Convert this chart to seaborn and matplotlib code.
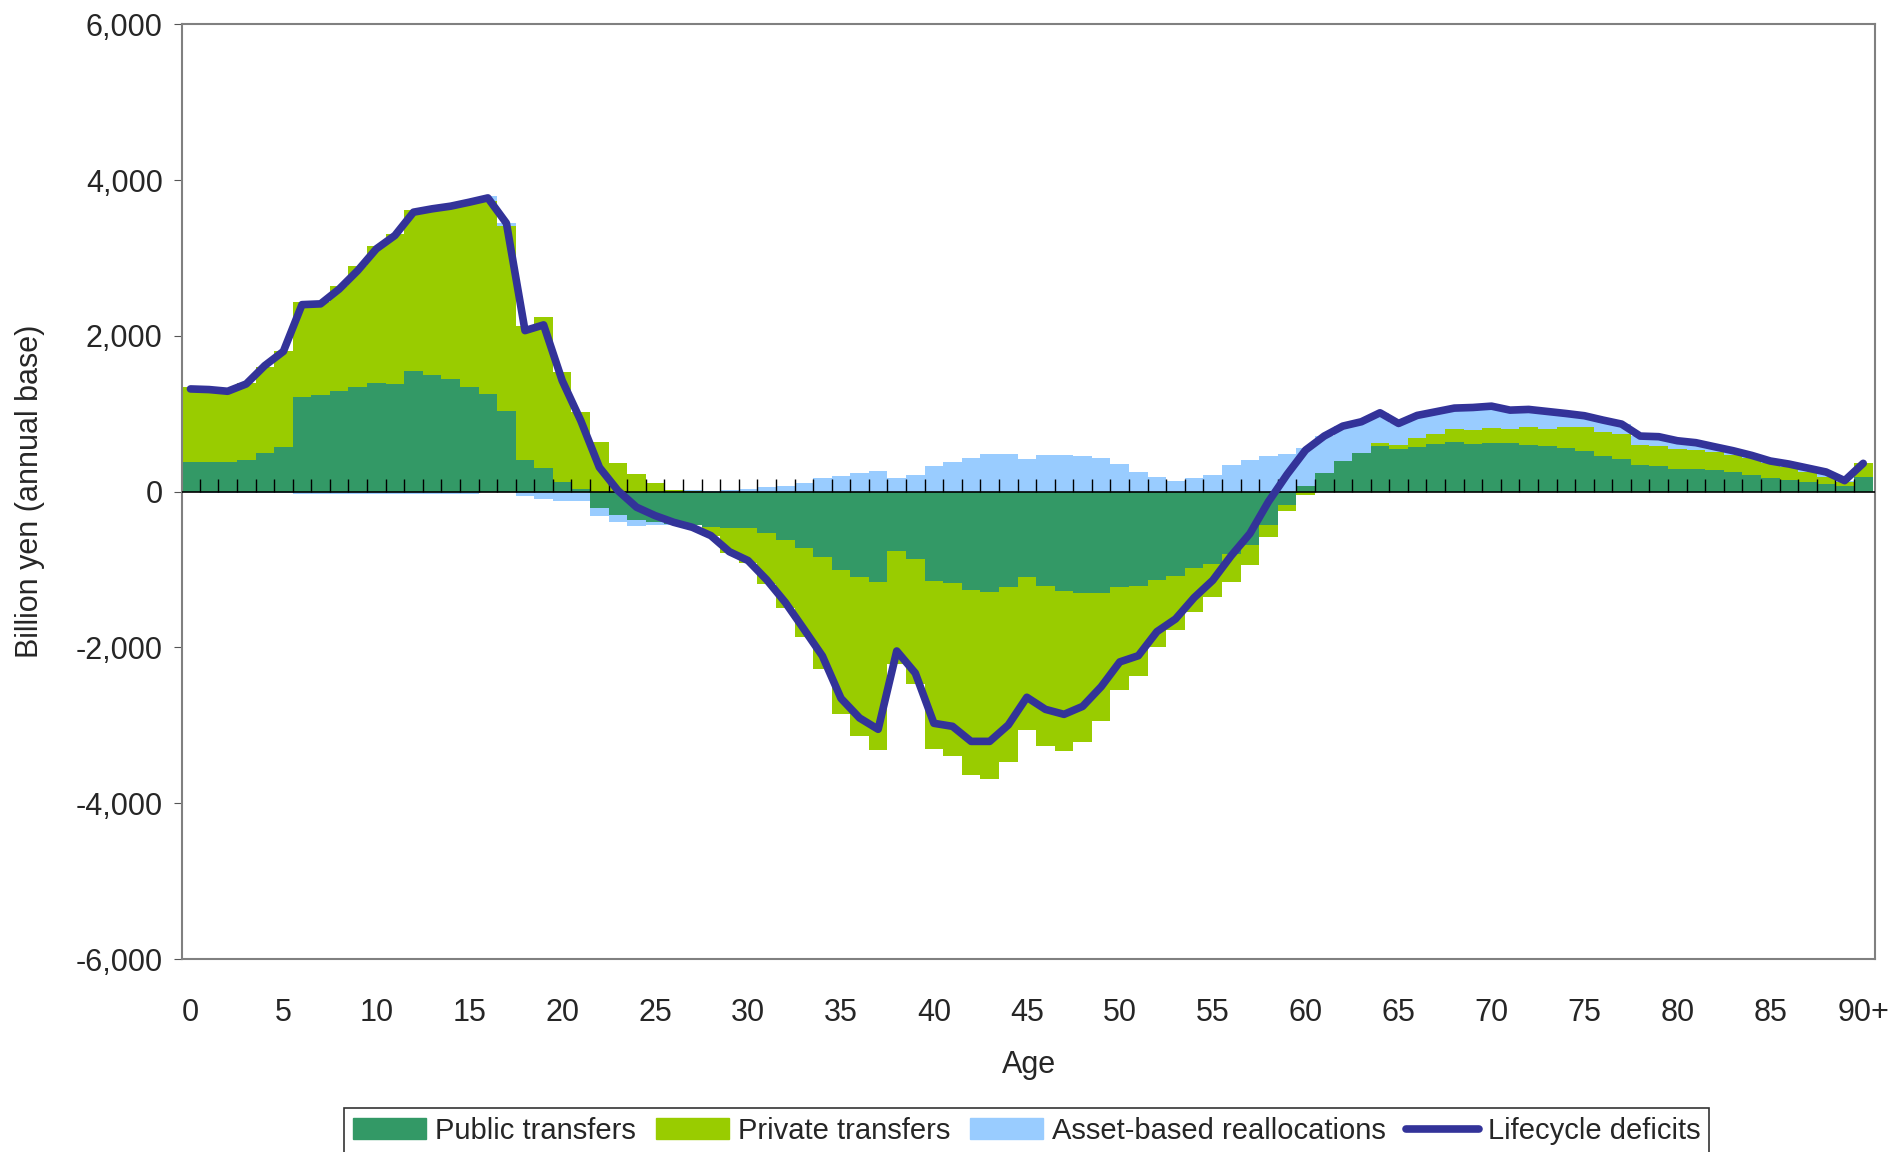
import numpy as np
import matplotlib
matplotlib.use("Agg")
import matplotlib.pyplot as plt
import seaborn as sns
from matplotlib.lines import Line2D
from matplotlib.patches import Patch

ages = np.arange(91)
tick_labels = ["0", "5", "10", "15", "20", "25", "30", "35", "40", "45",
               "50", "55", "60", "65", "70", "75", "80", "85", "90+"]

public = [385, 385, 385, 410, 500, 578, 1220, 1245, 1297, 1348,
          1400, 1387, 1553, 1502, 1450, 1348, 1258, 1040, 400, 308,
          128, 38, -214, -295, -370, -385, -415, -430, -458, -466,
          -466, -535, -616, -719, -835, -1001, -1091, -1156, -757, -860,
          -1143, -1168, -1258, -1284, -1220, -1091, -1207, -1271, -1305, -1297,
          -1220, -1207, -1130, -1079, -976, -929, -800, -680, -427, -171,
          73, 235, 393, 491, 585, 542, 576, 611, 636, 611,
          623, 623, 598, 585, 559, 521, 457, 418, 342, 329,
          290, 290, 278, 252, 213, 175, 149, 124, 98, 73,
          188]
private = [963, 955, 925, 985, 1105, 1232, 1220, 1195, 1348, 1542,
           1750, 1921, 2064, 2148, 2244, 2388, 2478, 2375, 1730, 1932,
           1412, 989, 642, 372, 231, 115, 26, 5, -107, -326,
           -454, -651, -882, -1151, -1446, -1858, -2050, -2165, -1460, -1610,
           -2165, -2230, -2384, -2410, -2256, -1973, -2063, -2063, -1914, -1643,
           -1326, -1156, -860, -697, -565, -428, -355, -257, -154, -72,
           -43, 0, 0, 10, 38, 56, 111, 128, 167, 179,
           192, 180, 230, 218, 269, 307, 307, 321, 256, 256,
           257, 244, 234, 218, 214, 188, 163, 132, 94, 55,
           175]
asset = [0, -20, -20, -20, -20, -20, -25, -25, -25, -25,
         -25, -25, -25, -25, -25, -25, 60, 30, -60, -95,
         -125, -125, -100, -90, -75, -40, -10, 10, 10, 20,
         35, 55, 77, 107, 171, 205, 235, 270, 171, 218,
         334, 385, 436, 488, 480, 424, 475, 475, 462, 436,
         360, 257, 193, 141, 180, 218, 342, 405, 457, 482,
         482, 478, 448, 406, 389, 277, 291, 286, 269, 290,
         282, 243, 227, 226, 175, 146, 154, 128, 115, 120,
         106, 94, 64, 55, 38, 30, 42, 47, 60, 13,
         0]
lifecycle = [1318, 1310, 1288, 1382, 1618, 1800, 2400, 2410, 2600, 2838,
             3116, 3288, 3587, 3630, 3664, 3715, 3770, 3445, 2067, 2140,
             1425, 911, 312, 13, -200, -308, -394, -458, -565, -772,
             -885, -1131, -1421, -1763, -2110, -2654, -2906, -3051, -2046, -2330,
             -2974, -3013, -3206, -3206, -2996, -2640, -2795, -2859, -2757, -2504,
             -2186, -2106, -1797, -1635, -1361, -1139, -821, -539, -129, 220,
             534, 713, 841, 897, 1012, 875, 978, 1025, 1072, 1080,
             1097, 1046, 1055, 1029, 1003, 974, 918, 867, 713, 705,
             653, 628, 576, 525, 465, 393, 354, 303, 252, 141,
             363]

series = [("Public transfers", public, "#339966"),
          ("Private transfers", private, "#99CC00"),
          ("Asset-based reallocations", asset, "#99CCFF")]

sns.set_style("white")
plt.rcParams["font.family"] = ["Liberation Sans", "DejaVu Sans"]

fig = plt.figure(figsize=(18.91, 11.52), dpi=100)
ax = fig.add_axes([0.0963, 0.1675, 0.8954, 0.8115])

pos_base = np.zeros(len(ages))
neg_base = np.zeros(len(ages))
for name, vals, col in series:
    v = np.array(vals, dtype=float)
    bottom = np.where(v >= 0, pos_base, neg_base)
    ax.bar(ages, v, bottom=bottom, width=1.0, color=col, linewidth=0, label=name)
    pos_base += np.clip(v, 0, None)
    neg_base += np.clip(v, None, 0)

# category axis crossing at zero, Excel style
ax.axhline(0, color="black", lw=1.2, zorder=3)
ax.vlines(ages[1:] - 0.5, 0, 160, color="black", lw=1.0, zorder=3)

sns.lineplot(x=ages, y=lifecycle, ax=ax, color="#333399", lw=5.5, zorder=4,
             label="Lifecycle deficits", legend=False)

ax.set_xlim(-0.45, 90.65)
ax.set_ylim(-6000, 6000)
ax.set_yticks(np.arange(-6000, 6001, 2000))
ax.set_yticklabels([f"{v:,}" for v in range(-6000, 6001, 2000)], fontsize=22)
ax.set_xticks(np.arange(0, 91, 5))
ax.set_xticklabels(tick_labels, fontsize=22)
ax.tick_params(axis="x", length=0, pad=28)
ax.tick_params(axis="y", direction="out", length=6, color="#555555", left=True, pad=8)
for s in ax.spines.values():
    s.set_color("#808080")
    s.set_linewidth(1.5)
ax.set_ylabel("Billion yen (annual base)", fontsize=22, labelpad=22)
ax.set_xlabel("Age", fontsize=22, labelpad=16)

handles = [Patch(color="#339966", label="Public transfers"),
           Patch(color="#99CC00", label="Private transfers"),
           Patch(color="#99CCFF", label="Asset-based reallocations"),
           Line2D([0], [0], color="#333399", lw=5.5, label="Lifecycle deficits")]
leg = fig.legend(handles=handles, loc="lower center", bbox_to_anchor=(0.543, -0.014),
                 ncol=4, fontsize=21, frameon=True, fancybox=False,
                 handlelength=2.5, handletextpad=0.3, columnspacing=0.7,
                 borderpad=0.3)
leg.get_frame().set_edgecolor("black")
leg.get_frame().set_linewidth(1.2)

fig.savefig("out.png", dpi=100)
